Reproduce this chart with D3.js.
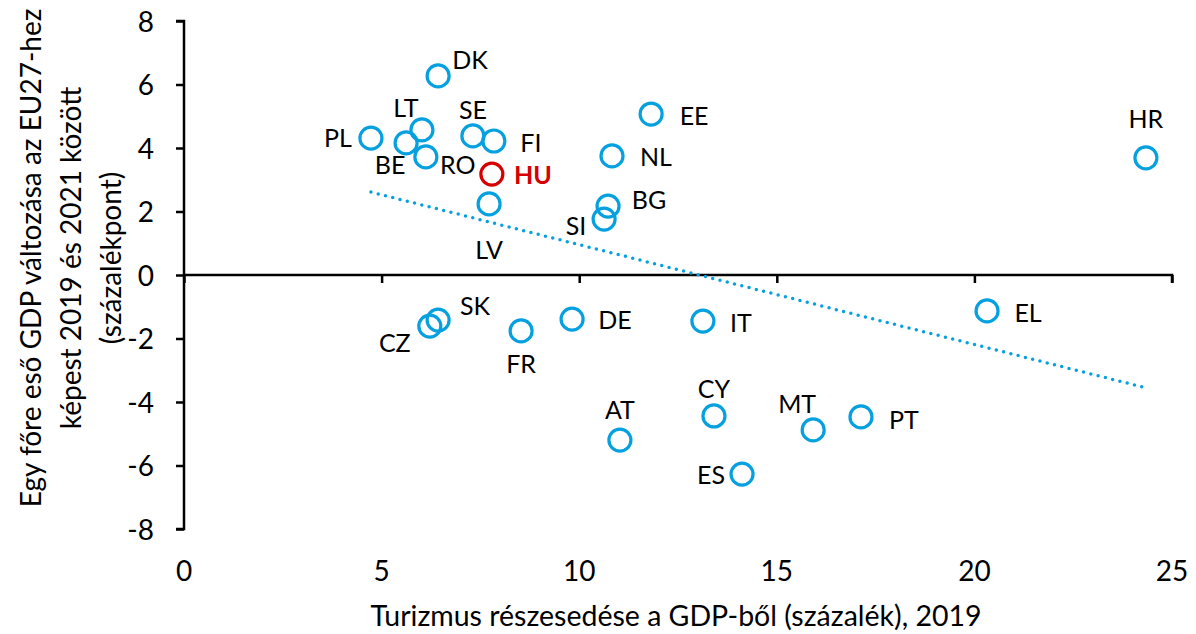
<!DOCTYPE html>
<html>
<head>
<meta charset="utf-8">
<script src="https://cdn.jsdelivr.net/npm/d3@7"></script>
<style>
  body { margin: 0; background: #fff; }
  svg text { font-family: Lato, "Open Sans", sans-serif; fill: #000; }
</style>
</head>
<body>
<div class="chart"></div>
<script>
// country codes, tourism share of GDP 2019 (%), change of per-capita GDP vs EU27 2019-2021 (pp)
const countries = ['PL', 'BE', 'LT', 'RO', 'DK', 'SE', 'FI', 'HU', 'LV', 'SI', 'BG', 'NL', 'EE', 'HR',
  'CZ', 'SK', 'FR', 'DE', 'IT', 'EL', 'AT', 'CY', 'ES', 'MT', 'PT'];
const tourismShare = [4.73, 5.62, 6.02, 6.12, 6.43, 7.31, 7.84, 7.79, 7.72, 10.63, 10.73, 10.83, 11.82, 24.34,
  6.22, 6.43, 8.53, 9.82, 13.13, 20.32, 11.03, 13.41, 14.12, 15.92, 17.13];
const gdpChange = [4.31, 4.16, 4.57, 3.72, 6.27, 4.38, 4.22, 3.18, 2.24, 1.76, 2.17, 3.75, 5.07, 3.69,
  -1.61, -1.42, -1.76, -1.39, -1.45, -1.13, -5.2, -4.44, -6.27, -4.88, -4.47];
const xTicks = [0, 5, 10, 15, 20, 25];
const yTicks = [-8, -6, -4, -2, 0, 2, 4, 6, 8];
const highlight = 'HU';

// label offsets from the marker centre (layout only)
const labelPos = {
  PL: [-33, 0], BE: [-16, 22], LT: [-16, -22], RO: [32, 8], DK: [32, -16], SE: [0, -26],
  FI: [37, 2], HU: [41, 1], LV: [0, 46], SI: [-28, 7], BG: [41, -6], NL: [44, 1], EE: [43, 2],
  HR: [0, -39], CZ: [-35, 17], SK: [37, -14], FR: [0, 33], DE: [43, 1], IT: [38, 2], EL: [41, 2],
  AT: [0, -30], CY: [0, -27], ES: [-31, 1], MT: [-16, -26], PT: [43, 3]
};

const width = 1196;
const height = 634;
const blue = '#05a0e0';
const red = '#d60000';

const points = countries.map((c, i) => ({ code: c, x: tourismShare[i], y: gdpChange[i] }));

const svg = d3.select('.chart').append('svg')
  .attr('width', width)
  .attr('height', height);

const x = d3.scaleLinear().domain([0, 25]).range([184, 1172]);
const y = d3.scaleLinear().domain([-8, 8]).range([529, 21]);

// y axis at x = 0
svg.append('g')
  .attr('transform', `translate(${x(0)},0)`)
  .call(d3.axisLeft(y).tickValues(yTicks).tickSize(8).tickPadding(22).tickFormat(d => String(d)))
  .call(g => g.select('.domain').attr('stroke-width', 2.5).attr('d', `M-8,${y(8)}H0V${y(-8)}H-8`))
  .call(g => g.selectAll('.tick line').attr('stroke-width', 2.5))
  .call(g => g.selectAll('.tick text').style('font-size', '28px').attr('dy', '0.36em'));

// x axis along y = 0, tick labels placed below the plot
svg.append('g')
  .attr('transform', `translate(0,${y(0)})`)
  .call(d3.axisBottom(x).tickValues(xTicks).tickSize(8).tickFormat(''))
  .call(g => g.select('.domain').attr('stroke-width', 2.5).attr('d', `M${x(0)},0H${x(25)}V8`))
  .call(g => g.selectAll('.tick line').attr('stroke-width', 2.5));

svg.append('g')
  .selectAll('text')
  .data(xTicks)
  .join('text')
  .attr('x', d => x(d))
  .attr('y', 581)
  .attr('text-anchor', 'middle')
  .style('font-size', '28px')
  .text(d => d);

// linear trendline (least squares), drawn over the x range of the data
const mx = d3.mean(tourismShare);
const my = d3.mean(gdpChange);
const slope = d3.sum(points, p => (p.x - mx) * (p.y - my)) / d3.sum(points, p => (p.x - mx) ** 2);
const intercept = my - slope * mx;
const xExt = d3.extent(tourismShare);
const xEnd = x.invert(x(xExt[1]) - 3);

svg.append('line')
  .attr('x1', x(xExt[0]))
  .attr('y1', y(intercept + slope * xExt[0]))
  .attr('x2', x(xEnd))
  .attr('y2', y(intercept + slope * xEnd))
  .attr('stroke', blue)
  .attr('stroke-width', 3.5)
  .attr('stroke-linecap', 'round')
  .attr('stroke-dasharray', '0 7.5');

// markers
svg.append('g')
  .selectAll('circle')
  .data(points)
  .join('circle')
  .attr('cx', d => x(d.x))
  .attr('cy', d => y(d.y))
  .attr('r', 11)
  .attr('fill', 'none')
  .attr('stroke', d => d.code === highlight ? red : blue)
  .attr('stroke-width', 3.2);

// country labels
svg.append('g')
  .selectAll('text')
  .data(points)
  .join('text')
  .attr('x', d => x(d.x) + labelPos[d.code][0])
  .attr('y', d => y(d.y) + labelPos[d.code][1])
  .attr('dy', '0.36em')
  .attr('text-anchor', 'middle')
  .style('font-size', '25px')
  .style('font-weight', d => d.code === highlight ? 'bold' : 'normal')
  .style('fill', d => d.code === highlight ? red : '#000')
  .text(d => d.code);

// axis titles
svg.append('text')
  .attr('x', 676)
  .attr('y', 626)
  .attr('text-anchor', 'middle')
  .style('font-size', '28.5px')
  .text('Turizmus részesedése a GDP-ből (százalék), 2019');

const yTitle = ['Egy főre eső GDP változása az EU27-hez', 'képest 2019 és 2021 között', '(százalékpont)'];
svg.append('g')
  .attr('transform', 'translate(31,258) rotate(-90)')
  .selectAll('text')
  .data(yTitle)
  .join('text')
  .attr('x', 0)
  .attr('y', (d, i) => i * 40)
  .attr('dy', '0.36em')
  .attr('text-anchor', 'middle')
  .style('font-size', '28px')
  .text(d => d);
</script>
</body>
</html>
